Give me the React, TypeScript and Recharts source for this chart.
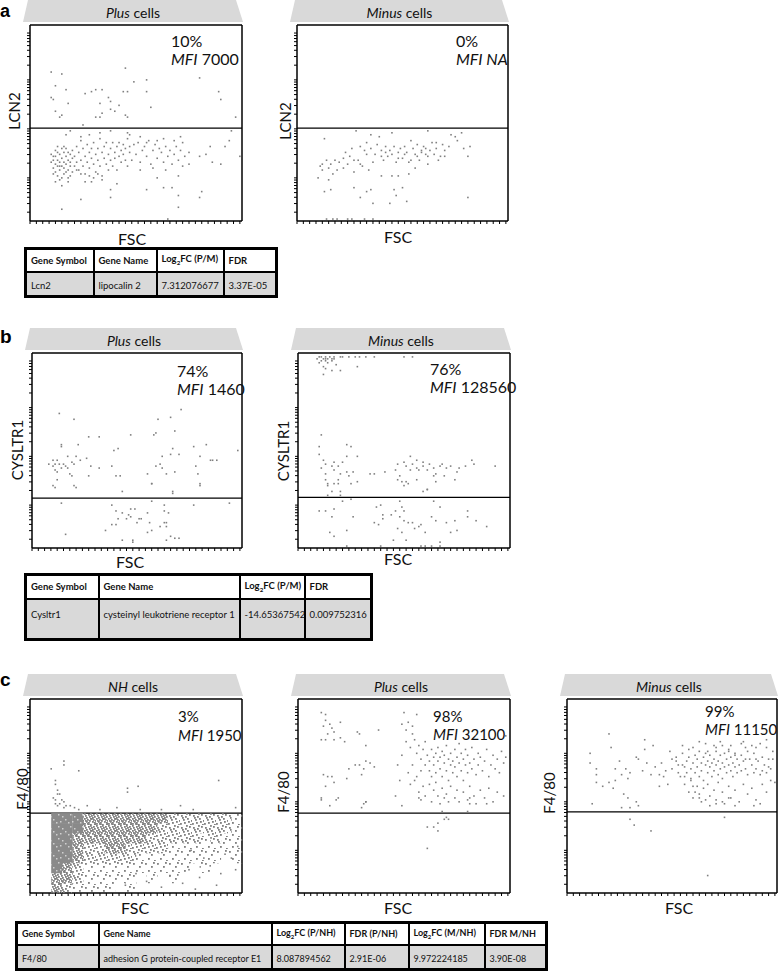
import React from "react";
import { ScatterChart, Scatter, XAxis, YAxis, ReferenceLine } from "recharts";

type Pt = [number, number];

const FONT = "Lato, 'Open Sans', sans-serif";
const DOT = "#808080";

// both axes on a 0-100 display scale (FSC linear, fluorescence log display)
const fscTicks = [0, 3, 6, 9, 12, 15, 18, 21, 24, 27, 30, 33, 36, 39, 42, 45, 48, 51, 54, 57, 60, 63, 66, 69, 72, 75, 78, 81, 84, 87, 90, 93, 96, 99];
const topTicks = [6, 38, 57, 94];
const decadeBase = [-3, 22, 47, 72];
const logSteps = [1, 2, 3, 4, 5, 6, 7, 8, 9];
const fluorTicks = decadeBase
  .flatMap((b) => logSteps.map((k) => +(b + 25 * Math.log10(k)).toFixed(1)))
  .filter((v) => v >= 0 && v <= 100);

// ---- panel a: LCN2 ----
const lcn2Plus: Pt[] = [
  [10,76],[15,75],[12,69],[10,63],[11,62],[17,67],[26,65],[31,67],[34,67],[33,60],[37,63],[38,61],[34,55],[31,53],[15,54],[14,53],[18,60],[25,49],[45,78],[49,71],[55,72],[55,66],[44,66],[46,66],[45,54],[40,56],[42,59],[57,58],[80,73],[89,66],[90,62],[97,53],[33,53],[38,57],[46,53],[29,66],[12,56],
  [10,30],[11,27],[11,33],[12,29],[12,25],[12,36],[13,31],[13,28],[13,23],[14,34],[14,30],[14,26],[15,32],[15,28],[15,22],[16,35],[16,30],[16,27],[16,24],[17,33],[17,29],[17,37],[18,31],[18,26],[18,22],[19,34],[19,28],[19,30],[20,36],[20,25],[11,31],[12,33],[13,35],[14,21],[15,37],[16,38],[17,25],[18,35],[19,23],[20,32],[10,34],[11,24],[12,20],[13,38],[14,28],
  [21,33],[21,28],[22,38],[22,30],[23,35],[23,26],[24,41],[24,31],[25,37],[25,28],[26,33],[26,24],[27,39],[27,30],[28,35],[28,27],[29,32],[29,37],[30,29],[30,40],[31,34],[31,25],[32,31],[32,37],[33,28],[33,42],[34,35],[34,23],[35,32],[35,38],[36,29],[36,40],[37,34],[37,26],[38,37],[38,31],[39,40],[39,28],[40,35],[40,32],[41,38],[41,26],[42,33],[42,40],[43,36],[43,30],[44,34],[44,39],[45,31],[45,37],[46,42],[46,28],[47,35],[47,38],[22,26],[24,24],[26,20],[28,23],[30,22],[32,24],[34,21],
  [48,31],[49,39],[50,34],[51,40],[52,30],[53,36],[54,38],[55,33],[56,41],[57,29],[58,36],[59,39],[60,32],[61,37],[62,35],[63,30],[64,38],[65,33],[66,36],[67,29],[68,34],[69,38],[70,31],[71,36],[73,33],[75,35],[52,26],[58,27],[64,26],[72,28],
  [15,6],[24,11],[38,12],[38,16],[55,16],[63,17],[67,17],[70,13],[70,7],[65,1],[81,15],[80,12],[15,18],[18,20],[29,20],[41,19],[60,22],[70,23],[94,41],[95,46],[99,33],[92,38],[85,38],[86,30],[90,29],[83,34],[80,33],[75,29],[72,40],[71,43],[68,41],[63,42],[60,41],[55,40],[52,43],[47,44],[46,45],[38,46],[33,45],[28,44],[24,43],[19,46],[17,44],
];
const lcn2Minus: Pt[] = [
  [13,42],[28,46],[35,44],[39,43],[45,45],[54,41],[62,46],[75,43],[79,37],[81,33],[81,12],[69,39],[66,40],[61,37],[59,35],[57,33],[54,31],[51,34],[48,32],[45,34],[42,35],[40,33],[36,30],[33,34],[30,29],[27,31],[24,29],[22,32],[19,26],[17,24],[15,27],[12,29],[10,22],[11,28],[15,21],[16,16],[13,15],[27,17],[30,12],[33,15],[35,16],[40,23],[45,23],[46,16],[47,13],[50,17],[52,10],[44,9],[36,9],[48,23],[53,24],[56,27],[62,33],[65,34],[68,33],[70,36],
  [14,1],[17,1],[19,1],[24,1],[26,1],[32,1],[36,1],
  [35,37],[37,34],[38,39],[40,36],[41,31],[42,38],[43,33],[44,36],[46,38],[47,30],[48,35],[49,37],[50,32],[51,38],[52,35],[53,30],[55,37],[56,34],[57,39],[58,31],[59,36],[60,38],[61,34],[62,29],[63,36],[64,40],[66,37],[67,31],[70,33],[72,38],[20,30],[22,27],[25,33],[27,25],[29,31],[31,28],[32,36],[34,26],[18,31],[14,31],[16,29],[12,26],[23,35],[26,37],[30,38],[33,40],[82,38],[76,41],[73,44],[78,45],
];

// ---- panel b: CYSLTR1 ----
const cysPlus: Pt[] = [
  [13,69],[20,66],[71,71],[66,67],[60,66],[68,60],[47,58],[58,58],[59,59],[32,57],[27,57],[22,53],[14,53],[14,52],[77,52],[83,53],[98,50],[67,51],[62,47],[66,48],[70,48],[80,47],[85,45],[88,45],[39,50],[41,51],[26,46],[23,45],[21,47],[19,44],[17,47],[15,43],[12,45],[8,43],[10,42],[11,40],[12,39],[13,43],[10,45],[11,43],[14,41],[16,42],[17,41],[20,43],[18,38],[19,37],[12,35],[10,32],[20,32],[27,37],[38,42],[40,37],[42,37],[55,38],[57,33],[59,42],[61,43],[62,41],[64,38],[68,39],[67,29],[78,42],[79,38],[80,33],[86,45],[28,42],[32,41],
  [11,31],[21,31],[43,29],[57,33],[67,28],[80,32],
  [14,23],[38,22],[40,19],[47,20],[49,20],[46,17],[45,15],[47,16],[51,15],[52,15],[55,18],[57,24],[63,22],[63,19],[65,18],[50,13],[56,13],[63,13],[64,13],[61,11],[55,8],[57,9],[64,11],[35,9],[38,12],[40,12],[66,6],[68,5],[70,5],[64,4],[43,4],[48,4],[48,3],[16,7],[77,22],[94,23],[41,15],[43,18],
];
const cysMinus: Pt[] = [
  [10,98],[11,98],[12,97],[13,98],[13,97],[14,97],[15,98],[16,97],[17,98],[11,96],[13,96],[14,95],[16,96],[17,97],[20,98],[21,98],[24,98],[27,98],[29,98],[32,98],[12,93],[13,92],[16,91],[20,91],[28,93],[12,89],[10,95],[18,94],[9,97],[36,98],[54,98],[50,98],
  [11,58],[10,52],[10,48],[12,45],[11,41],[13,38],[13,35],[14,32],[16,29],[17,33],[19,35],[23,53],[25,52],[23,47],[21,44],[19,42],[23,39],[24,37],[26,39],[28,47],[13,43],[16,42],[17,40],[20,38],[17,44],
  [34,38],[36,38],[41,39],[46,40],[47,43],[50,44],[51,42],[53,40],[54,43],[56,41],[57,40],[59,42],[61,40],[62,43],[64,41],[65,38],[67,42],[68,43],[70,41],[72,42],[75,39],[76,41],[79,42],[82,45],[83,43],[93,42],[53,47],[56,45],[59,44],[48,37],[51,34],[56,35],[61,30],[50,32],[47,35],[64,37],[69,37],[74,35],
  [14,33],[19,33],[25,33],[28,34],[14,27],[20,29],[20,27],[49,34],[52,33],[61,30],[59,29],[65,34],
  [10,19],[13,19],[17,20],[16,16],[21,24],[25,25],[26,16],[15,8],[17,6],[23,9],[37,21],[39,22],[36,13],[38,12],[40,17],[40,15],[44,17],[46,19],[48,24],[49,21],[48,16],[50,14],[50,19],[47,10],[49,8],[52,13],[54,13],[55,10],[57,11],[58,12],[60,8],[63,16],[64,24],[65,14],[67,21],[70,13],[72,8],[75,9],[74,14],[80,19],[80,16],[84,14],[89,11],[45,4],[51,4],[67,3],[23,1],[39,1],[58,1],[60,1],[63,1],[67,1],
];

// ---- panel c: F4/80 ----
// NH cells: density on a 5 x 5.15 grid below the gate (0 empty .. 4 solid)
const nhDensityRows = [
  [0,0,4,4,4,3,3,3,3,3,3,3,3,2,2,2,2,2,2,1],
  [0,0,4,4,4,3,3,3,3,3,3,3,2,2,2,2,2,2,2,1],
  [0,0,4,4,3,3,3,3,3,3,3,2,2,2,2,2,1,2,1,1],
  [0,0,4,4,3,2,2,3,3,2,2,2,2,1,1,1,1,1,1,1],
  [0,0,4,4,3,2,2,2,2,2,1,1,1,1,1,1,1,1,0,1],
  [0,0,4,3,2,1,1,1,1,1,1,1,1,1,1,0,1,0,0,0],
  [0,0,3,3,2,1,1,1,1,1,0,1,0,1,0,0,0,0,0,0],
  [0,0,3,2,1,1,1,1,0,1,0,0,0,0,0,0,0,0,0,0],
];
const nhSparse: Pt[] = [
  [16,68],[16,66],[10,64],[23,63],[12,58],[12,56],[13,53],[14,51],[12,48],[15,48],[16,47],[12,46],[13,45],[16,44],[17,45],[19,45],[21,44],[23,43],[27,45],[46,54],[46,52],[51,55],[89,58],[97,44],[77,43],[11,49],[13,51],[14,46],[33,43],[41,44],[52,43],[62,43],[71,45],
  [75,12],[80,8],[85,14],[90,10],[95,18],[72,5],[78,2],[88,4],[92,20],[98,24],[62,3],[55,6],[50,10],[45,4],[66,9],[82,18],[76,22],[97,12],
];
const f480Plus: Pt[] = [
  [11,93],[13,92],[13,89],[15,87],[12,86],[16,85],[14,82],[17,83],[11,79],[13,79],[17,79],[20,88],[20,80],[22,78],[28,83],[29,82],[38,84],[32,76],
  [12,61],[14,60],[16,60],[17,57],[13,55],[11,49],[19,49],[23,59],[24,64],[27,66],[29,66],[32,68],[34,67],[36,65],[31,64],[30,61],[31,46],[32,47],
  [50,93],[52,88],[54,86],[51,84],[54,82],[49,87],[56,92],[76,92],[98,81],
  [51,78],[53,75],[55,79],[56,72],[57,76],[58,69],[59,74],[60,66],[60,78],[61,71],[62,63],[62,68],[63,74],[63,60],[64,70],[64,66],[65,72],[65,62],[66,68],[66,75],[67,64],[67,70],[68,60],[68,73],[69,67],[69,71],[70,63],[70,76],[71,69],[71,58],[72,66],[72,72],[73,62],[73,68],[74,74],[74,65],[75,70],[75,60],[76,67],[76,77],[77,63],[77,72],[78,69],[78,58],[79,66],[79,74],[80,62],[80,71],[81,67],[82,64],[82,75],[83,69],[84,61],[85,72],[85,66],[86,70],[87,63],[88,68],[89,74],[90,60],[91,66],[92,71],[93,64],[94,69],[95,62],[96,73],[97,67],[98,70],
  [55,58],[57,52],[58,48],[59,55],[60,50],[62,56],[63,47],[64,53],[65,57],[66,50],[67,46],[68,54],[70,51],[71,47],[72,55],[74,49],[75,53],[76,47],[78,52],[80,48],[81,55],[83,50],[84,46],[86,53],[88,49],[90,54],[92,47],[94,52],[97,50],[52,62],[53,56],[54,66],[56,60],[58,63],[47,66],[49,71],[48,58],[46,50],
  [11,48],[15,45],[18,48],[30,44],[32,47],[49,45],[57,49],[69,49],[81,49],[81,46],[89,46],[80,42],
  [70,39],[69,38],[61,34],[66,36],[66,32],[71,38],[68,42],[64,34],[61,23],
];
const f480Minus: Pt[] = [
  [20,82],[21,75],[37,79],[37,74],[33,70],[34,69],[41,76],[11,72],[11,67],[14,64],[14,61],[14,57],[17,55],[20,57],[22,54],[25,68],[23,64],[26,61],[28,64],[30,62],[29,59],[23,58],[27,51],[29,49],[33,47],[34,45],[26,44],[30,44],[12,46],
  [44,61],[46,60],[49,73],[50,69],[52,68],[55,66],[53,62],[56,60],[59,58],[60,55],[61,52],[63,49],[64,47],[68,45],[71,48],[74,47],[77,49],[80,45],[89,45],[92,46],[67,73],[71,75],[74,76],[77,73],[80,71],[83,77],[86,73],[90,75],[95,75],[98,69],[99,57],[93,63],[96,65],[89,62],[90,69],[85,69],
  [50,64],[52,70],[53,66],[54,60],[55,72],[56,65],[57,68],[57,62],[58,70],[59,64],[59,59],[60,67],[61,71],[61,62],[62,65],[62,69],[63,60],[63,73],[64,67],[64,63],[65,70],[65,58],[66,66],[66,72],[67,62],[67,68],[68,65],[68,71],[69,60],[69,67],[70,63],[70,69],[71,73],[71,66],[72,61],[72,68],[73,64],[73,71],[74,67],[74,59],[75,65],[75,72],[76,62],[76,69],[77,66],[77,74],[78,63],[78,70],[79,60],[79,67],[80,65],[80,72],[81,62],[81,69],[82,66],[83,71],[83,63],[84,68],[85,64],[85,75],[86,61],[87,69],[88,66],[89,72],[90,64],[91,68],[92,61],[93,70],[94,66],[95,62],[96,69],[97,64],[98,73],
  [56,56],[58,52],[60,49],[62,55],[63,51],[65,54],[66,48],[67,56],[68,50],[70,53],[71,46],[72,57],[74,52],[75,46],[77,55],[78,49],[80,53],[82,47],[84,56],[86,51],[88,54],[90,48],[93,56],[95,52],[97,58],
  [55,76],[60,75],[63,78],[66,77],[70,76],[73,78],[78,76],[84,78],[88,76],[92,77],[95,79],[58,74],[45,67],[47,63],[42,65],[40,61],[38,67],[36,63],[48,56],[44,55],
  [30,38],[32,35],[40,32],[75,39],[67,9],
];

const NH_CELL_W = 5;
const NH_CELL_H = 5.15;
const nhCells = nhDensityRows
  .flatMap((row, r) => row.map((d, c) => ({ x: c * NH_CELL_W + NH_CELL_W / 2, y: (nhDensityRows.length - 1 - r) * NH_CELL_H + NH_CELL_H / 2, d })))
  .filter((c) => c.d > 0);

// speckle textures for the density cells: dot spots inside a 12px tile (level 4 = grey with holes)
const speck1: Pt[] = [[1, 2], [7, 5], [4, 9], [10, 11], [9, 1]];
const speck2: Pt[] = [...speck1, [3, 6], [0, 10], [6, 0], [11, 7], [5, 3], [8, 8], [2, 4]];
const speck3: Pt[] = [...speck2, [6, 11], [10, 3], [1, 7], [4, 1], [7, 2], [11, 10], [3, 10], [9, 6], [0, 0], [5, 7], [8, 4], [2, 8], [6, 5], [10, 9], [4, 11], [0, 5]];
const holes4: Pt[] = [[2, 3], [8, 9], [5, 6], [10, 1], [0, 8]];
const speckles = [[], speck1, speck2, speck3];

type Panel = {
  l: number; t: number; w: number; h: number; gate: number;
  pts: Pt[]; cells?: { x: number; y: number; d: number }[];
  title: string; pct: string; mfi: string; mfiItalic?: boolean;
  tx: number; pctY: number; mfiY: number; fs: number;
  yLabel: string; ylx: number; yly: number; fscX: number; fscY: number;
};

const panels: Panel[] = [
  { l: 30, t: 25, w: 212, h: 196, gate: 47.4, pts: lcn2Plus, title: "Plus", pct: "10%", mfi: "7000", tx: 171, pctY: 47, mfiY: 65, fs: 16, yLabel: "LCN2", ylx: 14, yly: 111, fscX: 132, fscY: 245 },
  { l: 297, t: 25, w: 211, h: 196, gate: 47.4, pts: lcn2Minus, title: "Minus", pct: "0%", mfi: "NA", mfiItalic: true, tx: 456, pctY: 47, mfiY: 65, fs: 16, yLabel: "LCN2", ylx: 285, yly: 121, fscX: 398, fscY: 243 },
  { l: 32, t: 353, w: 210, h: 195, gate: 25.6, pts: cysPlus, title: "Plus", pct: "74%", mfi: "1460", tx: 177, pctY: 377, mfiY: 395, fs: 16, yLabel: "CYSLTR1", ylx: 17, yly: 450, fscX: 130, fscY: 568 },
  { l: 298, t: 353, w: 212, h: 195, gate: 26, pts: cysMinus, title: "Minus", pct: "76%", mfi: "128560", tx: 430, pctY: 375, mfiY: 393, fs: 16, yLabel: "CYSLTR1", ylx: 283, yly: 451, fscX: 398, fscY: 565 },
  { l: 30, t: 699, w: 212, h: 194, gate: 41.2, pts: nhSparse, cells: nhCells, title: "NH", pct: "3%", mfi: "1950", tx: 178, pctY: 722, mfiY: 741, fs: 15, yLabel: "F4/80", ylx: 22, yly: 789, fscX: 135, fscY: 914 },
  { l: 298, t: 699, w: 212, h: 194, gate: 41.2, pts: f480Plus, title: "Plus", pct: "98%", mfi: " 32100", tx: 433, pctY: 722, mfiY: 740, fs: 15, yLabel: "F4/80", ylx: 283, yly: 792, fscX: 398, fscY: 914 },
  { l: 567, t: 699, w: 210, h: 194, gate: 41.8, pts: f480Minus, title: "Minus", pct: "99%", mfi: "11150", tx: 705, pctY: 717, mfiY: 735, fs: 15, yLabel: "F4/80", ylx: 549, yly: 793, fscX: 679, fscY: 914 },
];

const PAD = 6;
const frame = { stroke: "#000", strokeWidth: 1.5 };
const noLabel = () => <g />;

function FlowPlot({ p }: { p: Panel }) {
  const data = p.pts.map(([x, y]) => ({ x, y }));
  const cw = (p.w * NH_CELL_W) / 100;
  const ch = (p.h * NH_CELL_H) / 100;
  return (
    <div style={{ position: "absolute", left: p.l - PAD, top: p.t - PAD }}>
      <ScatterChart width={p.w + PAD * 2} height={p.h + PAD * 2} margin={{ top: 0, right: 0, bottom: 0, left: 0 }}>
        <XAxis xAxisId="b" type="number" dataKey="x" domain={[0, 100]} ticks={fscTicks} interval={0} tick={noLabel} tickSize={3} height={PAD} axisLine={frame} tickLine={{ stroke: "#000" }} />
        <XAxis xAxisId="t" orientation="top" type="number" dataKey="x" domain={[0, 100]} ticks={topTicks} interval={0} tick={noLabel} tickSize={3} height={PAD} axisLine={frame} tickLine={{ stroke: "#000", strokeWidth: 2 }} />
        <YAxis yAxisId="l" type="number" dataKey="y" domain={[0, 100]} ticks={fluorTicks} interval={0} tick={noLabel} tickSize={3} width={PAD} axisLine={frame} tickLine={{ stroke: "#000" }} />
        <YAxis yAxisId="r" orientation="right" type="number" dataKey="y" domain={[0, 100]} ticks={[0, 100]} tick={false} tickLine={false} width={PAD} axisLine={frame} />
        {p.cells && (
          <Scatter
            xAxisId="b"
            yAxisId="l"
            data={p.cells}
            isAnimationActive={false}
            shape={(s: any) => (
              <rect x={s.cx - cw / 2} y={s.cy - ch / 2} width={cw + 0.3} height={ch + 0.3} fill={`url(#speck${s.payload.d})`} />
            )}
          />
        )}
        <Scatter
          xAxisId="b"
          yAxisId="l"
          data={data}
          isAnimationActive={false}
          shape={(s: any) => <rect x={s.cx - 0.8} y={s.cy - 0.8} width={1.6} height={1.6} fill={DOT} />}
        />
        <ReferenceLine xAxisId="b" yAxisId="l" y={p.gate} stroke="#000" strokeWidth={1.3} />
      </ScatterChart>
    </div>
  );
}

function PanelText({ p }: { p: Panel }) {
  const r = p.l + p.w;
  const top = p.t - 25;
  const bot = p.t - 3;
  return (
    <g>
      <polygon points={`${p.l - 2},${top} ${r - 6},${top} ${r + 1},${bot} ${p.l - 7},${bot}`} fill="#d9d9d9" />
      <text x={p.l + p.w / 2 - 3} y={p.t - 7} textAnchor="middle" fontSize={14} fill="#111">
        <tspan fontStyle="italic">{p.title}</tspan> cells
      </text>
      <text x={p.tx} y={p.pctY} fontSize={p.fs} fill="#111">{p.pct}</text>
      <text x={p.tx} y={p.mfiY} fontSize={p.fs} fill="#111">
        <tspan fontStyle="italic">MFI</tspan>
        <tspan fontStyle={p.mfiItalic ? "italic" : "normal"}>{" " + p.mfi}</tspan>
      </text>
      <text x={p.ylx} y={p.yly} fontSize={15} textAnchor="middle" dominantBaseline="central" transform={`rotate(-90 ${p.ylx} ${p.yly})`} fill="#111">
        {p.yLabel}
      </text>
      <text x={p.fscX} y={p.fscY} fontSize={16} textAnchor="middle" fill="#111">FSC</text>
    </g>
  );
}

// ---- tables ----
const log2 = (s: string) => (
  <>
    Log<sub style={{ fontSize: "0.65em" }}>2</sub>FC {s}
  </>
);
const headAB = ["Gene Symbol", "Gene Name", log2("(P/M)"), "FDR"];
const rowA = ["Lcn2", "lipocalin 2", "7.312076677", "3.37E-05"];
const rowB = ["Cysltr1", "cysteinyl leukotriene receptor 1", "-14.65367542", "0.009752316"];
const headC = ["Gene Symbol", "Gene Name", log2("(P/NH)"), "FDR (P/NH)", log2("(M/NH)"), "FDR M/NH"];
const rowC = ["F4/80", "adhesion G protein-coupled receptor E1", "8.087894562", "2.91E-06", "9.972224185", "3.90E-08"];

function GeneTable({ left, top, widths, head, row, headH, rowH, padTop, fs }: {
  left: number; top: number; widths: number[]; head: React.ReactNode[]; row: string[];
  headH: number; rowH: number; padTop: number; fs: number;
}) {
  const total = widths.reduce((a, b) => a + b, 0);
  const cell: React.CSSProperties = { border: "2px solid #000", padding: "0 4px", whiteSpace: "nowrap", overflow: "hidden", lineHeight: 1 };
  return (
    <table style={{ position: "absolute", left, top, width: total, borderCollapse: "collapse", tableLayout: "fixed", border: "3px solid #000", fontFamily: FONT, fontSize: fs, color: "#111" }}>
      <colgroup>
        {widths.map((w, i) => <col key={i} style={{ width: w }} />)}
      </colgroup>
      <tbody>
        <tr style={{ height: headH }}>
          {head.map((h, i) => <td key={i} style={{ ...cell, fontWeight: 700, background: "#fff" }}>{h}</td>)}
        </tr>
        <tr style={{ height: rowH }}>
          {row.map((v, i) => <td key={i} style={{ ...cell, background: "#d9d9d9", verticalAlign: "top", paddingTop: padTop }}>{v}</td>)}
        </tr>
      </tbody>
    </table>
  );
}

export default function App() {
  return (
    <div style={{ position: "absolute", left: 0, top: 0, width: 778, height: 972, background: "#fff", fontFamily: FONT, overflow: "hidden" }}>
      <svg width={0} height={0} style={{ position: "absolute" }}>
        <defs>
          {speckles.map((dots, i) => (
            <pattern key={i} id={`speck${i}`} width={12} height={12} patternUnits="userSpaceOnUse">
              {dots.map(([x, y], j) => <rect key={j} x={x} y={y} width={1.8} height={1.8} fill="#808080" />)}
            </pattern>
          ))}
          <pattern id="speck4" width={12} height={12} patternUnits="userSpaceOnUse">
            <rect width={12} height={12} fill="#8a8a8a" />
            {holes4.map(([x, y], j) => <rect key={j} x={x} y={y} width={1.5} height={1.5} fill="#d0d0d0" />)}
          </pattern>
        </defs>
      </svg>
      {panels.map((p, i) => <FlowPlot key={i} p={p} />)}
      <svg width={778} height={972} style={{ position: "absolute", left: 0, top: 0, pointerEvents: "none" }} fontFamily={FONT}>
        {panels.map((p, i) => <PanelText key={i} p={p} />)}
        <text x={0} y={17} fontSize={18} fontWeight={700} fontFamily="'Liberation Sans', Arial, sans-serif">a</text>
        <text x={0} y={343} fontSize={19} fontWeight={700} fontFamily="'Liberation Sans', Arial, sans-serif">b</text>
        <text x={0} y={686} fontSize={19} fontWeight={700} fontFamily="'Liberation Sans', Arial, sans-serif">c</text>
      </svg>
      <GeneTable left={24} top={247} widths={[68, 63, 67, 53]} head={headAB} row={rowA} headH={23} rowH={25} padTop={8} fs={9.5} />
      <GeneTable left={24} top={573} widths={[73, 141, 65, 67]} head={headAB} row={rowB} headH={24} rowH={41} padTop={10} fs={9.5} />
      <GeneTable left={15} top={921} widths={[82, 173, 73, 64, 76, 62]} head={headC} row={rowC} headH={22} rowH={25} padTop={8} fs={9} />
    </div>
  );
}
